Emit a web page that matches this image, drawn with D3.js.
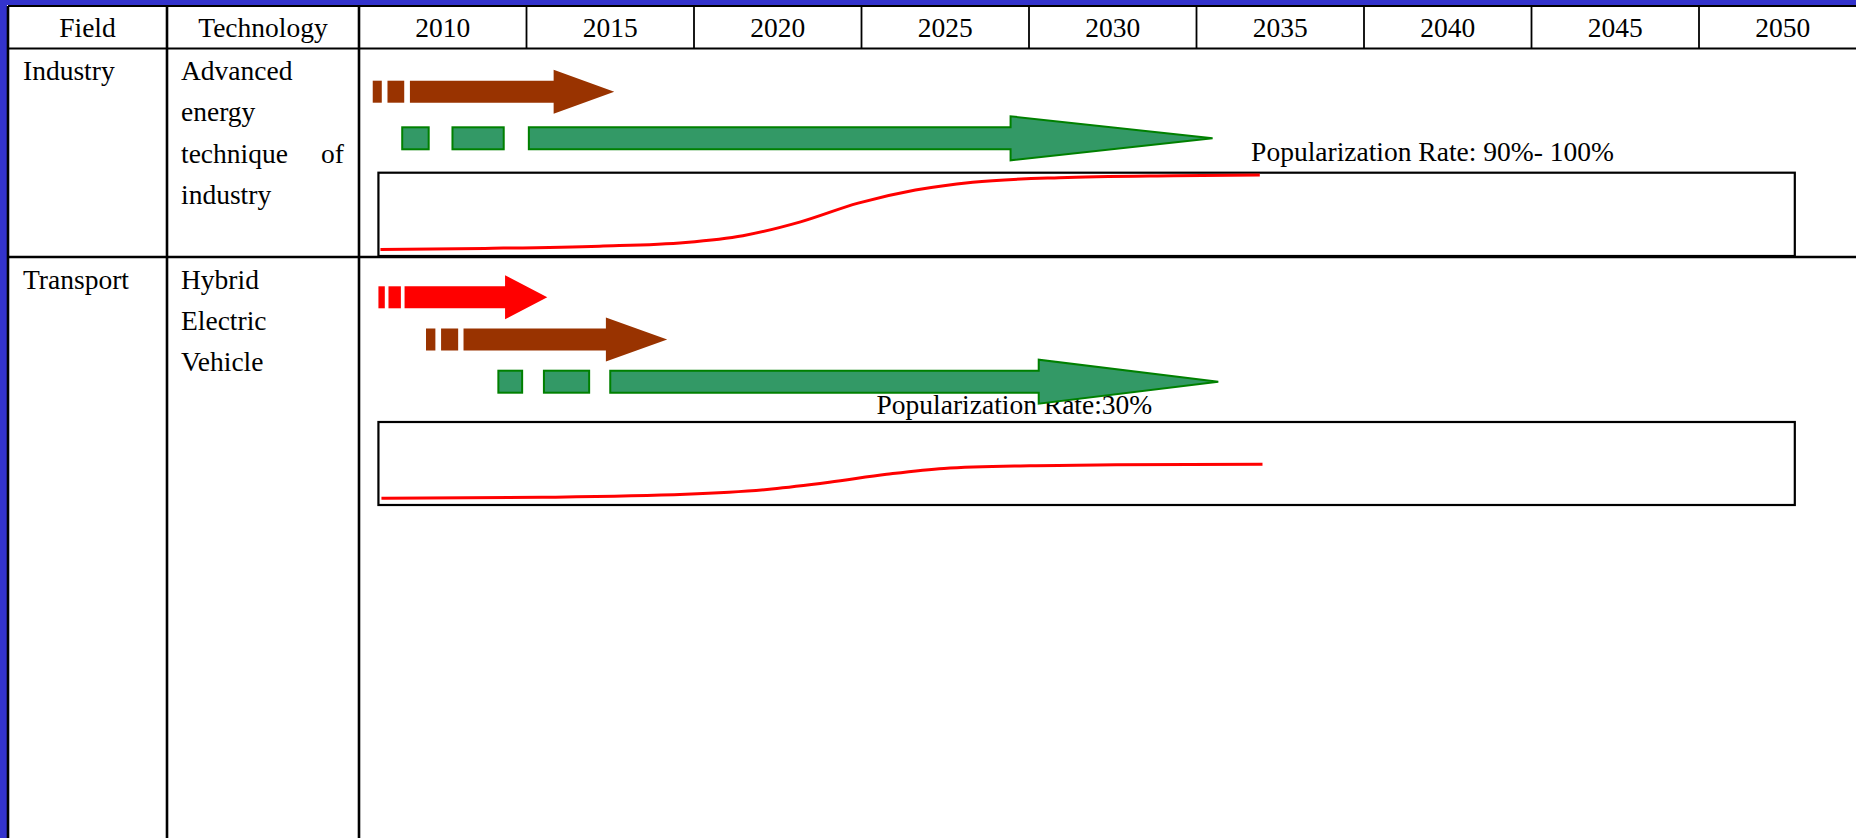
<!DOCTYPE html>
<html>
<head>
<meta charset="utf-8">
<script src="https://cdn.jsdelivr.net/npm/d3@7"></script>
<style>
  html, body { margin: 0; padding: 0; background: #fff; }
  svg { display: block; }
  text { font-family: "Liberation Serif", "Times New Roman", serif; font-size: 27.5px; fill: #000; }
</style>
</head>
<body>
<svg id="chart" width="1856" height="838"></svg>
<script>
// ---------------- DATA ----------------
const headerLabels = ["Field", "Technology"];
const years = [2010, 2015, 2020, 2025, 2030, 2035, 2040, 2045, 2050];
const fields = ["Industry", "Transport"];
const technologyLines = [
  [["Advanced"], ["energy"], ["technique", "of"], ["industry"]],
  [["Hybrid"], ["Electric"], ["Vehicle"]]
];

// arrows (years)
const arrowRows   = [0, 0, 1, 1, 1];
const arrowLanes  = [0, 1, 0, 1, 2];
const arrowKinds  = ["brown", "green", "red", "brown", "green"];
const arrowDashes = [
  [[2007.91, 2008.18], [2008.35, 2008.85]],
  [[2008.79, 2009.58], [2010.29, 2011.82]],
  [[2008.08, 2008.27], [2008.38, 2008.75]],
  [[2009.50, 2009.78], [2009.95, 2010.46]],
  [[2011.66, 2012.37], [2013.02, 2014.37]]
];
const arrowBodyStart = [2009.02, 2012.57, 2008.86, 2010.62, 2015.00];
const arrowHeadStart = [2013.31, 2026.95, 2011.86, 2014.87, 2027.79];
const arrowTip       = [2015.12, 2032.98, 2013.12, 2016.70, 2033.15];

// popularization curves (year, % of panel)
const curveYears1  = [2008.14, 2011.26, 2014.68, 2017.25, 2018.96, 2020.68, 2022.40, 2024.11, 2025.82, 2028.40, 2031.82, 2034.39];
const curveValues1 = [0, 1.5, 4.5, 9.5, 18.5, 37, 62, 79.5, 90, 96, 98.5, 99.5];
const curveYears2  = [2008.17, 2012.97, 2017.25, 2019.82, 2021.54, 2023.25, 2024.96, 2027.53, 2030.10, 2034.47];
const curveValues2 = [0.3, 1.6, 5.6, 12.7, 21.7, 32.4, 40.4, 43.9, 45.2, 46.1];
const panelYears   = [2008.08, 2050.36];

const rateLabels     = ["Popularization Rate: 90%- 100%", "Popularization Rate:30%"];
const rateLabelYears = [2034.13, 2022.95];

// ---------------- LAYOUT / STYLE ----------------
const W = 1856, H = 838;
const blue = "#3333CC";
const colors = { brown: "#993300", red: "#FF0000", green: "#339966" };
const colLeft = 8, colField = 167, colTech = 359;
const headerTop = 6, headerBottom = 48.5, row1Bottom = 257;
const rowTops = [headerBottom, row1Bottom];
const laneStart = [91.7, 297.3];
const laneGap = [46.6, 42.2];
const bodyHalf = 11, headHalf = 22;
const panelTop = [172.7, 422], panelBottom = [256, 505];
const textBaselineOffset = 31.5, lineGap = 41.3;

const svg = d3.select("#chart");

// scale: year -> x (year labels at column centers)
const x = d3.scaleLinear().domain([2010, 2050]).range([442.75, 1782.75]);
const colW = x(2015) - x(2010);

// background
svg.append("rect").attr("x", 0).attr("y", 0).attr("width", W).attr("height", H).attr("fill", "#fff");
svg.append("rect").attr("x", 0).attr("y", 0).attr("width", W).attr("height", 5).attr("fill", blue);
svg.append("rect").attr("x", 0).attr("y", 0).attr("width", 7).attr("height", H).attr("fill", blue);

// table lines
const g = svg.append("g");
g.append("line").attr("x1", colLeft).attr("x2", W).attr("y1", headerTop).attr("y2", headerTop).attr("stroke", "#000").attr("stroke-width", 2);
g.append("line").attr("x1", colLeft).attr("x2", W).attr("y1", headerBottom).attr("y2", headerBottom).attr("stroke", "#000").attr("stroke-width", 2.2);
g.append("line").attr("x1", colLeft).attr("x2", W).attr("y1", row1Bottom).attr("y2", row1Bottom).attr("stroke", "#000").attr("stroke-width", 2.6);
[colLeft, colField, colTech].forEach(cx => {
  g.append("line").attr("x1", cx).attr("x2", cx).attr("y1", headerTop).attr("y2", H).attr("stroke", "#000").attr("stroke-width", 2.6);
});
// year column separators (header only)
g.selectAll("line.ysep").data(years.slice(1)).enter().append("line")
  .attr("class", "ysep")
  .attr("x1", d => x(d) - colW / 2).attr("x2", d => x(d) - colW / 2)
  .attr("y1", headerTop).attr("y2", headerBottom)
  .attr("stroke", "#000").attr("stroke-width", 1.8);

// header text
g.append("text").attr("x", (colLeft + colField) / 2).attr("y", 36.7).attr("text-anchor", "middle").text(headerLabels[0]);
g.append("text").attr("x", (colField + colTech) / 2).attr("y", 36.7).attr("text-anchor", "middle").text(headerLabels[1]);
g.selectAll("text.year").data(years).enter().append("text")
  .attr("class", "year").attr("x", d => x(d)).attr("y", 36.7).attr("text-anchor", "middle").text(d => d);

// field and technology text
fields.forEach((f, i) => {
  g.append("text").attr("x", 23).attr("y", rowTops[i] + textBaselineOffset).text(f);
  technologyLines[i].forEach((words, j) => {
    const yy = rowTops[i] + textBaselineOffset + j * lineGap;
    if (words.length === 1) {
      g.append("text").attr("x", 181).attr("y", yy).text(words[0]);
    } else {
      g.append("text").attr("x", 181).attr("y", yy).text(words[0]);
      g.append("text").attr("x", 344).attr("y", yy).attr("text-anchor", "end").text(words[1]);
    }
  });
});

// popularization panels
const curves = [[curveYears1, curveValues1], [curveYears2, curveValues2]];
[0, 1].forEach(i => {
  const y = d3.scaleLinear().domain([0, 100]).range([panelBottom[i] - 6.5, panelTop[i] + 2]);
  svg.append("rect")
    .attr("x", x(panelYears[0])).attr("y", panelTop[i])
    .attr("width", x(panelYears[1]) - x(panelYears[0]))
    .attr("height", panelBottom[i] - panelTop[i])
    .attr("fill", "#fff").attr("stroke", "#000").attr("stroke-width", 2.2);
  const pts = curves[i][0].map((yr, k) => [yr, curves[i][1][k]]);
  const line = d3.line().x(d => x(d[0])).y(d => y(d[1])).curve(d3.curveMonotoneX);
  svg.append("path").attr("d", line(pts)).attr("fill", "none").attr("stroke", "#FF0000").attr("stroke-width", 3);
});

// rate labels (drawn under arrows)
svg.append("text").attr("x", x(rateLabelYears[0])).attr("y", 160.7).text(rateLabels[0]);
svg.append("text").attr("x", x(rateLabelYears[1])).attr("y", 414.3).text(rateLabels[1]);

// arrows
arrowKinds.forEach((kind, i) => {
  const row = arrowRows[i];
  const cy = laneStart[row] + arrowLanes[i] * laneGap[row];
  const fill = colors[kind];
  const stroke = kind === "green" ? "#008000" : "none";
  const sw = kind === "green" ? 2 : 0;
  arrowDashes[i].forEach(dsh => {
    svg.append("rect")
      .attr("x", x(dsh[0])).attr("y", cy - bodyHalf)
      .attr("width", x(dsh[1]) - x(dsh[0])).attr("height", 2 * bodyHalf)
      .attr("fill", fill).attr("stroke", stroke).attr("stroke-width", sw);
  });
  const bs = x(arrowBodyStart[i]), hs = x(arrowHeadStart[i]), tp = x(arrowTip[i]);
  const p = d3.path();
  p.moveTo(bs, cy - bodyHalf);
  p.lineTo(hs, cy - bodyHalf);
  p.lineTo(hs, cy - headHalf);
  p.lineTo(tp, cy);
  p.lineTo(hs, cy + headHalf);
  p.lineTo(hs, cy + bodyHalf);
  p.lineTo(bs, cy + bodyHalf);
  p.closePath();
  svg.append("path").attr("d", p.toString())
    .attr("fill", fill).attr("stroke", stroke).attr("stroke-width", sw).attr("stroke-linejoin", "miter");
});
</script>
</body>
</html>
